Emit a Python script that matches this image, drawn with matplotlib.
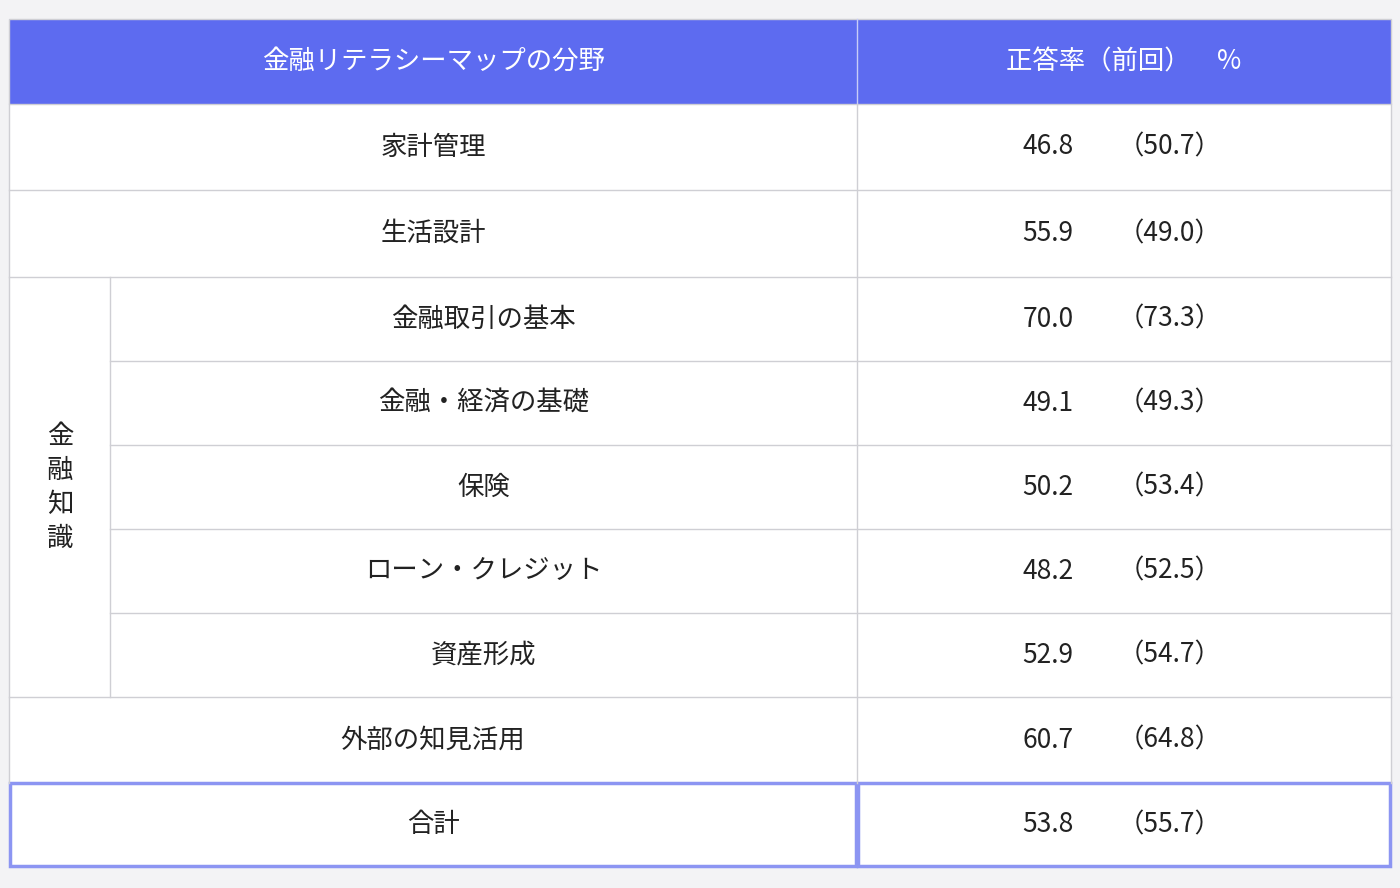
import matplotlib
matplotlib.use("Agg")
import matplotlib.pyplot as plt
from matplotlib.patches import Rectangle

plt.rcParams['font.family'] = ['Noto Sans CJK JP', 'DejaVu Sans']

header = ["金融リテラシーマップの分野", "正答率（前回）　%"]
categories = ["家計管理", "生活設計", "金融取引の基本", "金融・経済の基礎", "保険",
              "ローン・クレジット", "資産形成", "外部の知見活用", "合計"]
current = [46.8, 55.9, 70.0, 49.1, 50.2, 48.2, 52.9, 60.7, 53.8]
previous = [50.7, 49.0, 73.3, 49.3, 53.4, 52.5, 54.7, 64.8, 55.7]
group_label = "金融知識"
group_rows = [2, 3, 4, 5, 6]

fig = plt.figure(figsize=(14, 8.88), dpi=100)
fig.patch.set_facecolor('#f3f3f5')
ax = fig.add_axes([0, 0, 1, 1])
ax.set_xlim(0, 1400); ax.set_ylim(888, 0); ax.axis('off')

L, R, M, S = 9, 1391, 857, 110
ys = [19, 104, 190, 277, 361, 445, 529, 613, 697, 783, 866]
grid = '#cfcfd4'
fs = 19

ax.add_patch(Rectangle((L, ys[1]), R - L, ys[-1] - ys[1], facecolor='white', edgecolor='none'))
ax.add_patch(Rectangle((L, ys[0]), R - L, ys[1] - ys[0], facecolor='#5d6bf0', edgecolor=grid, lw=1))
ax.plot([M, M], [ys[0], ys[1]], color='#c8ccf8', lw=1)
ax.text((L + M) / 2, (ys[0] + ys[1]) / 2, header[0], color='white', fontsize=fs, ha='center', va='center')
ax.text(1124, (ys[0] + ys[1]) / 2, header[1], color='white', fontsize=fs, ha='center', va='center')

# grid lines
ax.plot([L, L], [ys[1], ys[-2]], color=grid, lw=1)
ax.plot([R, R], [ys[1], ys[-2]], color=grid, lw=1)
ax.plot([M, M], [ys[1], ys[-2]], color=grid, lw=1)
ax.plot([S, S], [ys[3], ys[8]], color=grid, lw=1)
for i in range(2, 9):
    r = i - 1
    x0 = S if (r - 1 in group_rows and r in group_rows) else L
    ax.plot([x0, R], [ys[i], ys[i]], color=grid, lw=1)

for r, (c, cur, prev) in enumerate(zip(categories, current, previous)):
    yc = (ys[r + 1] + ys[r + 2]) / 2
    xc = (S + M) / 2 if r in group_rows else (L + M) / 2
    ax.text(xc, yc, c, fontsize=fs, ha='center', va='center', color='#222222')
    ax.text(1048, yc, f"{cur:.1f}", fontsize=fs, ha='center', va='center', color='#222222')
    ax.text(1170, yc, f"（{prev:.1f}）", fontsize=fs, ha='center', va='center', color='#222222')

# group label vertical
gy0, gy1 = ys[3], ys[8]
gc = (gy0 + gy1) / 2
n = len(group_label)
for k, ch in enumerate(group_label):
    ax.text(60, gc + (k - (n - 1) / 2) * 34, ch, fontsize=fs, ha='center', va='center', color='#222222')

# total row border
tb = '#8c95f2'
ax.add_patch(Rectangle((L + 1, ys[9]), M - L - 2, ys[10] - ys[9], facecolor='none', edgecolor=tb, lw=2.5))
ax.add_patch(Rectangle((M + 1, ys[9]), R - M - 2, ys[10] - ys[9], facecolor='none', edgecolor=tb, lw=2.5))

fig.savefig('out.png', dpi=100, facecolor=fig.get_facecolor())
